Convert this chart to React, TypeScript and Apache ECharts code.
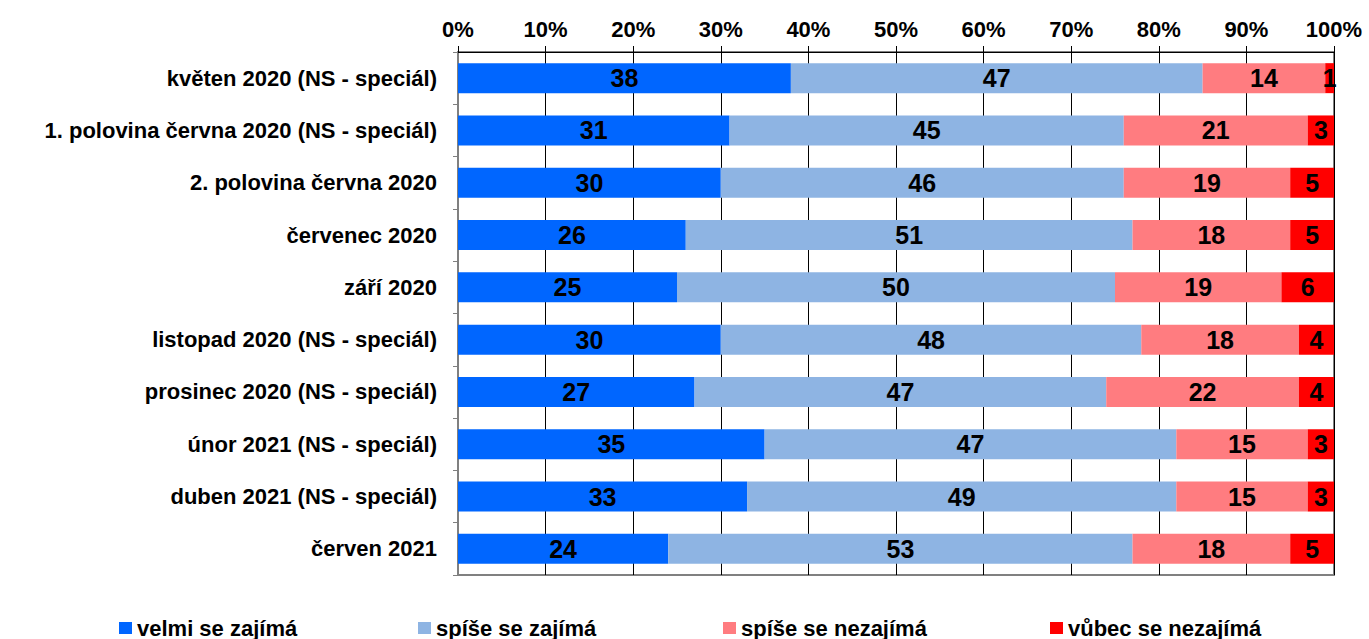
import React, { useEffect, useRef } from "react";
import * as echarts from "echarts";

const categories = [
  "květen 2020 (NS - speciál)",
  "1. polovina června 2020 (NS - speciál)",
  "2. polovina června 2020",
  "červenec 2020",
  "září 2020",
  "listopad 2020 (NS - speciál)",
  "prosinec 2020 (NS - speciál)",
  "únor 2021 (NS - speciál)",
  "duben 2021 (NS - speciál)",
  "červen 2021",
];

const velmi = [38, 31, 30, 26, 25, 30, 27, 35, 33, 24];
const spise = [47, 45, 46, 51, 50, 48, 47, 47, 49, 53];
const spiseNe = [14, 21, 19, 18, 19, 18, 22, 15, 15, 18];
const vubecNe = [1, 3, 5, 5, 6, 4, 4, 3, 3, 5];

const seriesNames = ["velmi se zajímá", "spíše se zajímá", "spíše se nezajímá", "vůbec se nezajímá"];
const seriesColors = ["#0066FF", "#8EB4E3", "#FF7C80", "#FF0000"];
const seriesData = [velmi, spise, spiseNe, vubecNe];
const legendLefts = [114, 413, 718, 1045];

const FONT = "Arial, 'Liberation Sans', sans-serif";

export default function App() {
  const ref = useRef<HTMLDivElement>(null);
  useEffect(() => {
    if (!ref.current) return;
    const chart = echarts.init(ref.current, undefined, { renderer: "svg" });
    chart.setOption({
      animation: false,
      textStyle: { fontFamily: FONT },
      grid: {
        left: 458,
        right: 35,
        top: 52,
        bottom: 64,
        show: true,
        borderColor: "#808080",
        borderWidth: 2,
      },
      legend: seriesNames.map((name, i) => ({
        top: 612,
        left: legendLefts[i],
        itemWidth: 13,
        itemHeight: 12,
        icon: "rect",
        selectedMode: false,
        textStyle: { fontFamily: FONT, fontSize: 22, fontWeight: "bold", color: "#000" },
        data: [name],
      })),
      xAxis: {
        type: "value",
        position: "top",
        min: 0,
        max: 100,
        interval: 10,
        axisLine: { show: true, lineStyle: { color: "#000", width: 1 } },
        axisTick: { show: true, length: 6, lineStyle: { color: "#000" } },
        splitLine: { show: true, lineStyle: { color: "#000", width: 1 } },
        axisLabel: {
          formatter: "{value}%",
          fontFamily: FONT,
          fontSize: 22,
          fontWeight: "bold",
          color: "#000",
          margin: 12,
        },
      },
      yAxis: {
        type: "category",
        inverse: true,
        data: categories,
        axisLine: { show: true, lineStyle: { color: "#808080", width: 2 } },
        axisTick: { show: true, length: 5, lineStyle: { color: "#808080" } },
        axisLabel: {
          fontFamily: FONT,
          fontSize: 22,
          fontWeight: "bold",
          color: "#000",
          margin: 21,
        },
      },
      series: seriesNames.map((name, i) => ({
        name,
        type: "bar",
        stack: "total",
        barWidth: 30,
        data: seriesData[i],
        itemStyle: { color: seriesColors[i] },
        label: {
          show: true,
          position: "inside",
          color: "#000",
          fontFamily: FONT,
          fontSize: 25,
          fontWeight: "bold",
        },
      })),
    });
    return () => chart.dispose();
  }, []);
  return (
    <div
      ref={ref}
      style={{ width: 1369, height: 639, position: "absolute", left: 0, top: 0 }}
    />
  );
}
